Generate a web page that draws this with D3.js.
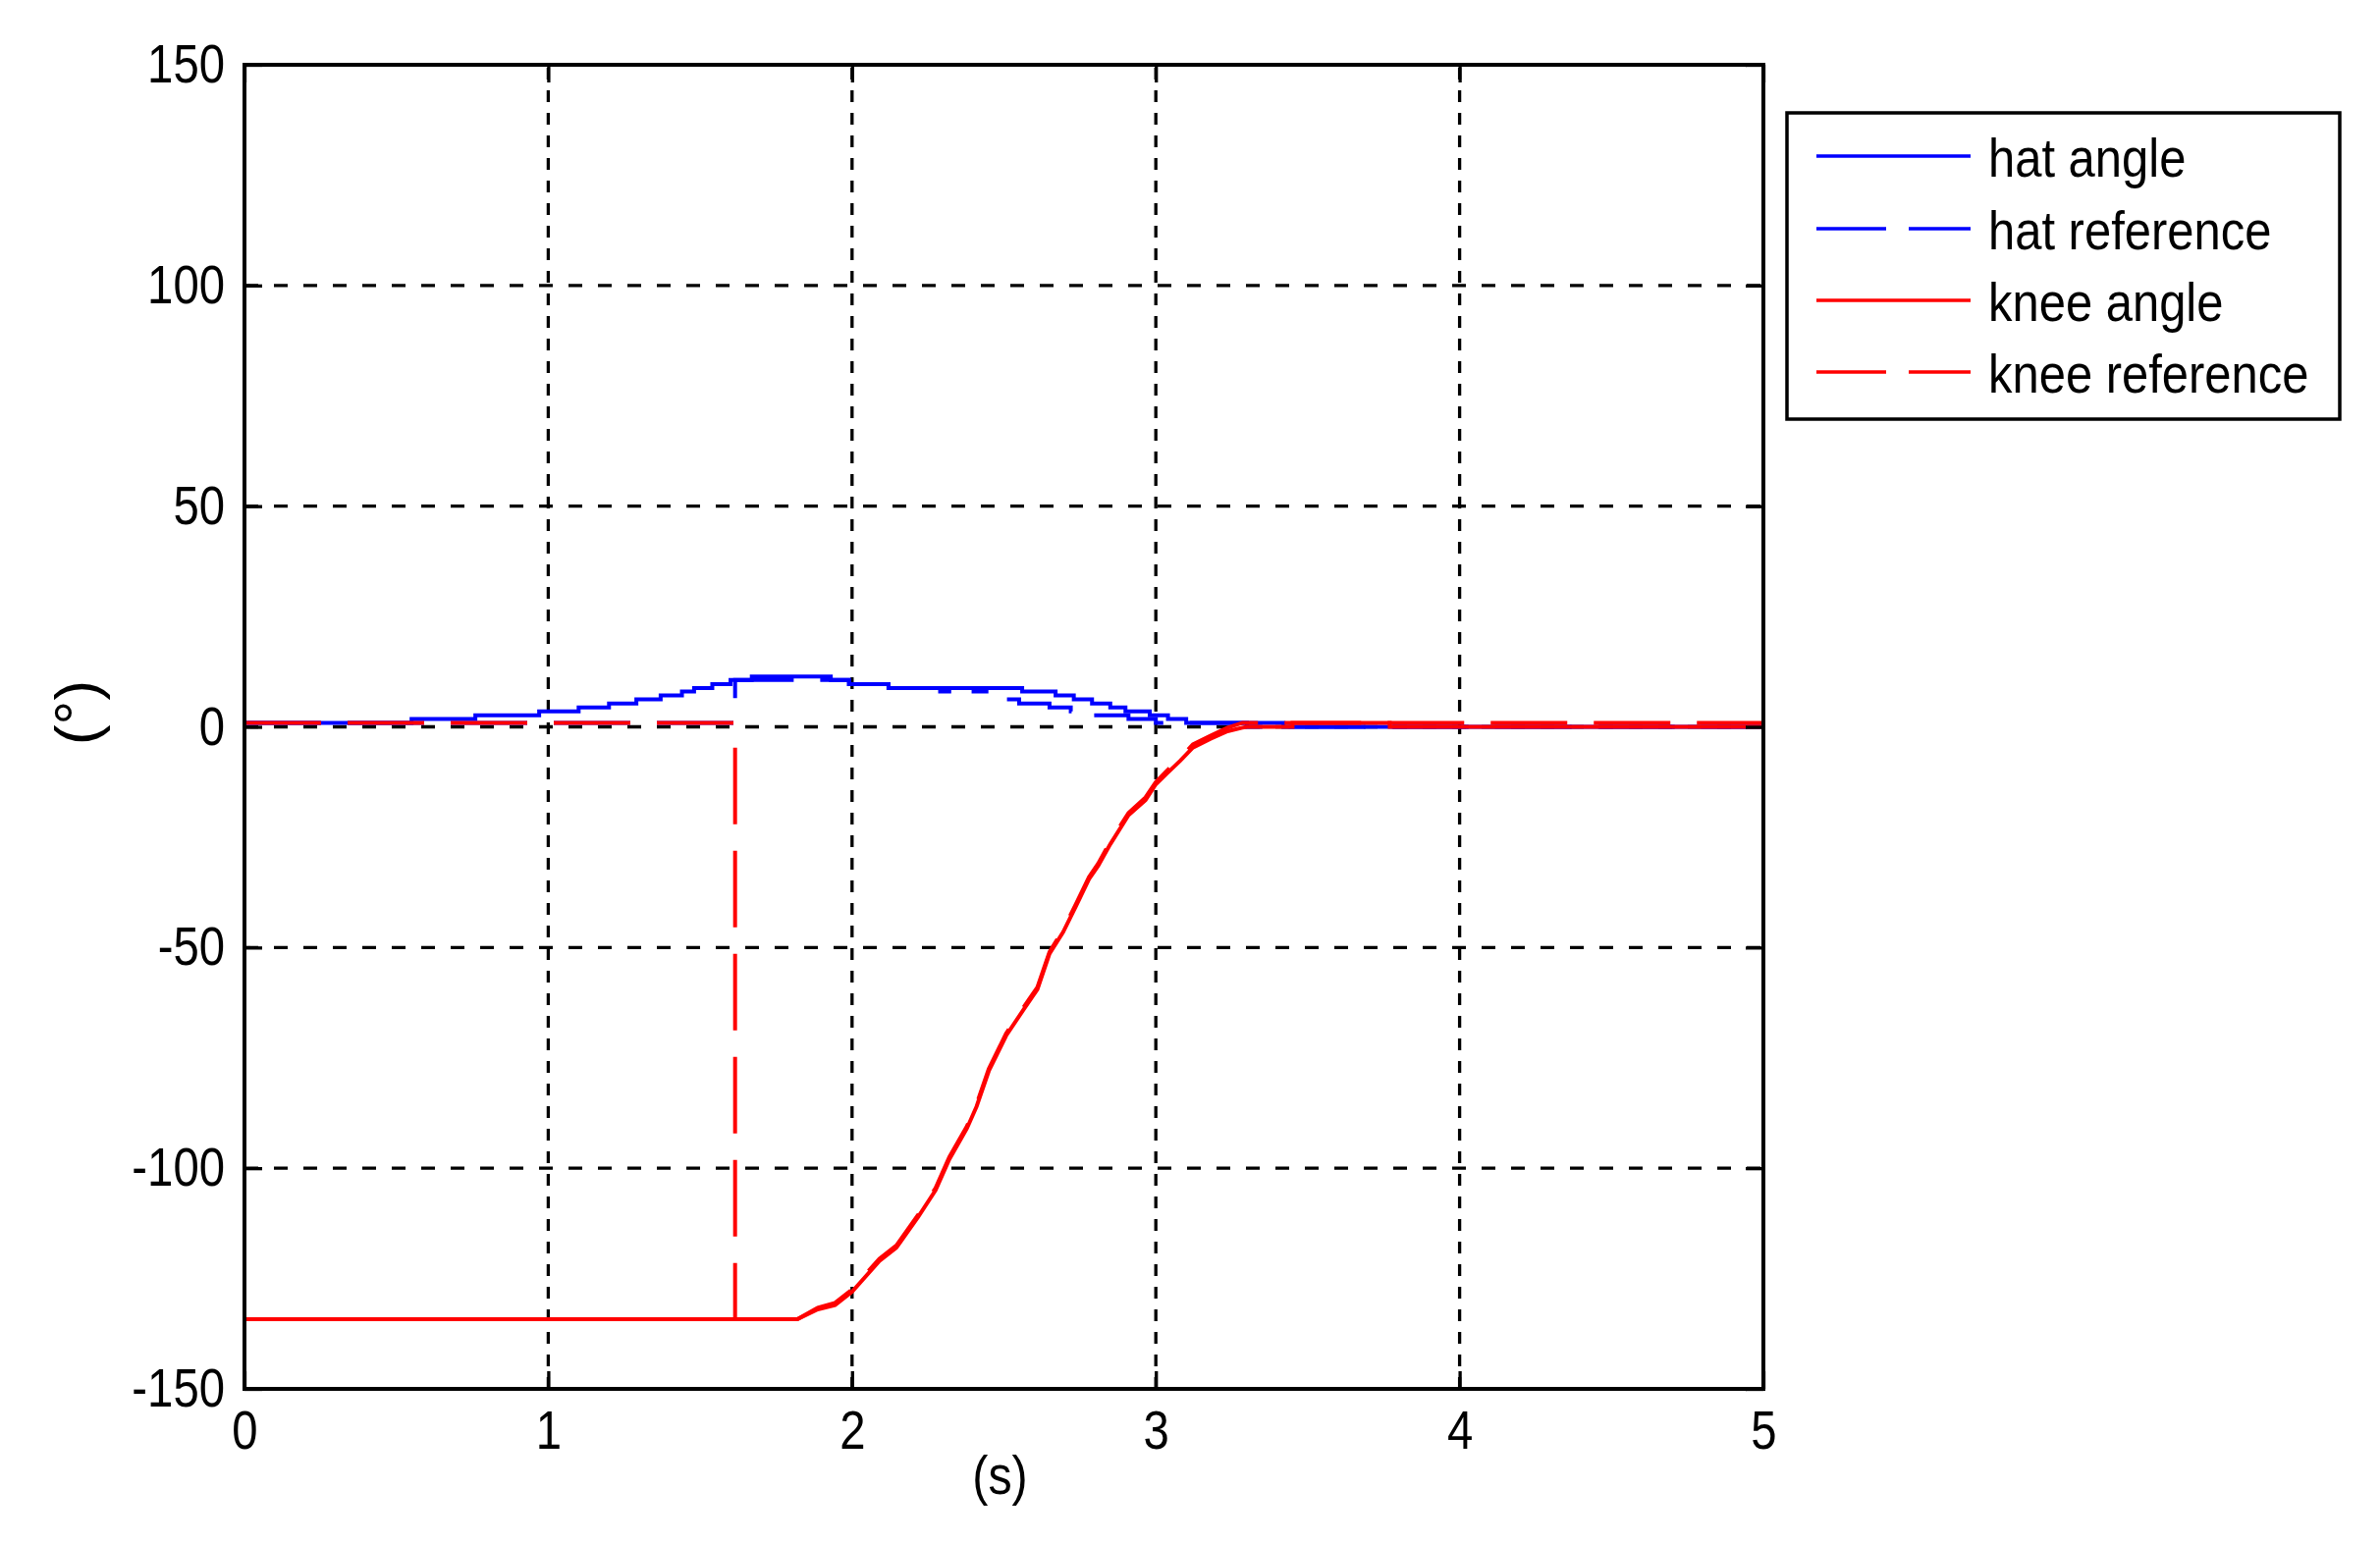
<!DOCTYPE html>
<html>
<head>
<meta charset="utf-8">
<script src="https://cdn.jsdelivr.net/npm/d3@7"></script>
<style>
  body { margin: 0; background: #fff; }
  text { font-family: "Liberation Sans", Arial, sans-serif; fill: #000; }
</style>
</head>
<body>
<div id="chart"></div>
<script>
// values: time in s, angle in degrees
var hatAngleT = [0, 0.55, 0.76, 0.97, 1.10, 1.20, 1.29, 1.37, 1.44, 1.48, 1.54, 1.60, 1.67, 1.93, 1.99, 2.12, 2.29, 2.32, 2.56, 2.67, 2.73, 2.79, 2.85, 2.90, 2.98, 3.04, 3.10, 3.42, 5];
var hatAngleV = [0.9, 1.8, 2.6, 3.5, 4.4, 5.3, 6.2, 7.1, 8.0, 8.8, 9.7, 10.6, 11.4, 10.6, 9.7, 8.8, 8.0, 8.8, 8.0, 7.1, 6.2, 5.3, 4.4, 3.5, 2.6, 1.8, 0.9, 0, 0];

var hatRefT = [0, 1.615, 1.99, 2.12, 2.40, 2.45, 2.48, 2.55, 2.65, 2.72, 2.79, 2.91, 3.0, 3.30, 5];
var hatRefV = [0.9, 10.6, 9.7, 8.8, 8.0, 7.1, 6.2, 5.3, 4.4, 3.5, 2.6, 1.8, 0.9, 0, 0];

var kneeAngleT = [0, 1.82, 1.887, 1.944, 2.0, 2.09, 2.146, 2.218, 2.275, 2.32, 2.378, 2.41, 2.45, 2.507, 2.565, 2.61, 2.65, 2.695, 2.738, 2.78, 2.81, 2.85, 2.91, 2.966, 3.0, 3.036, 3.08, 3.122, 3.18, 3.236, 3.285, 3.30, 3.45, 3.45, 3.77, 3.77, 5];
var kneeAngleV = [-134.2, -134.2, -132, -131, -128, -121, -118, -111, -105, -98, -91, -86, -78, -70, -64, -59.5, -51.4, -46.5, -40.5, -34.5, -31.5, -26.6, -20, -16.6, -13, -10.6, -7.7, -4.7, -2.7, -1.0, -0.2, 0, 0, 0.9, 0.9, 0, 0];

// the reference lies on top of the measured knee curve once it rises
var kneeRefT = [0, 1.615, 1.615, 1.82, 1.887, 1.944, 2.0, 2.09, 2.146, 2.218, 2.275, 2.32, 2.378, 2.41, 2.45, 2.507, 2.565, 2.61, 2.65, 2.695, 2.738, 2.78, 2.81, 2.85, 2.91, 2.966, 3.0, 3.036, 3.08, 3.122, 3.18, 3.236, 3.285, 5];
var kneeRefV = [0.9, 0.9, -134.2, -134.2, -131.6, -130.5, -127.5, -120.5, -117.5, -110.5, -104.5, -97.5, -90.5, -85.5, -77.5, -69.5, -63.5, -59, -51, -46, -40, -34, -31, -26, -19.5, -16, -12.5, -10, -7, -4, -2, -0.2, 0.9, 0.9];

var xTicks = [0, 1, 2, 3, 4, 5];
var yTicks = [-150, -100, -50, 0, 50, 100, 150];

var seriesNames = ['hat angle', 'hat reference', 'knee angle', 'knee reference'];
var seriesColors = ['#0000ff', '#0000ff', '#ff0000', '#ff0000'];
var seriesDashed = [false, true, false, true];
var seriesStep = [true, true, false, false];

var svgWidth = 2424;
var svgHeight = 1571;
var plotLeft = 249, plotRight = 1796, plotTop = 66, plotBottom = 1415;
var fontSize = 55;

var series = [
  d3.zip(hatAngleT, hatAngleV),
  d3.zip(hatRefT, hatRefV),
  d3.zip(kneeAngleT, kneeAngleV),
  d3.zip(kneeRefT, kneeRefV)
];

var x = d3.scaleLinear().domain([0, 5]).range([plotLeft, plotRight]);
var y = d3.scaleLinear().domain([-150, 150]).range([plotBottom, plotTop]);

var svg = d3.select('#chart')
  .append('svg')
  .attr('width', svgWidth)
  .attr('height', svgHeight)
  .style('display', 'block')
  .style('background', '#fff');

// squeeze text horizontally, the original font is narrow
function narrow(sel, k) {
  sel.attr('transform', function() {
    var tx = +d3.select(this).attr('x') || 0;
    return 'translate(' + tx + ',0) scale(' + k + ',1) translate(' + (-tx) + ',0)';
  });
}

// dotted grid
svg.append('g')
  .selectAll('line')
  .data(xTicks)
  .enter()
  .append('line')
  .attr('x1', function(d) { return x(d); })
  .attr('x2', function(d) { return x(d); })
  .attr('y1', plotBottom)
  .attr('y2', plotTop)
  .attr('stroke', '#000')
  .attr('stroke-width', 3.3)
  .attr('stroke-dasharray', '12,11');

svg.append('g')
  .selectAll('line')
  .data(yTicks)
  .enter()
  .append('line')
  .attr('x1', plotLeft)
  .attr('x2', plotRight)
  .attr('y1', function(d) { return y(d); })
  .attr('y2', function(d) { return y(d); })
  .attr('stroke', '#000')
  .attr('stroke-width', 3.3)
  .attr('stroke-dasharray', '14,16');

// data lines
var lineStep = d3.line()
  .x(function(d) { return x(d[0]); })
  .y(function(d) { return y(d[1]); })
  .curve(d3.curveStepAfter);

var lineLinear = d3.line()
  .x(function(d) { return x(d[0]); })
  .y(function(d) { return y(d[1]); });

svg.append('g')
  .selectAll('path')
  .data(series)
  .enter()
  .append('path')
  .attr('d', function(d, i) { return seriesStep[i] ? lineStep(d) : lineLinear(d); })
  .attr('fill', 'none')
  .attr('stroke', function(d, i) { return seriesColors[i]; })
  .attr('stroke-width', 4)
  .attr('stroke-dasharray', function(d, i) { return seriesDashed[i] ? '78,27' : null; });

// axes, ticks pointing inward on all four sides
function styleAxis(g) {
  g.select('.domain').remove();
  g.selectAll('.tick line').attr('stroke', '#000').attr('stroke-width', 3.3);
  g.attr('font-size', fontSize).attr('font-family', '"Liberation Sans", Arial, sans-serif');
}

var fmt = function(d) { return String(d); };

var xAxis = svg.append('g')
  .attr('transform', 'translate(0,' + plotBottom + ')')
  .call(d3.axisBottom(x).tickValues(xTicks).tickSize(-18).tickPadding(22).tickFormat(fmt))
  .call(styleAxis);
xAxis.selectAll('text').call(narrow, 0.86);

svg.append('g')
  .attr('transform', 'translate(0,' + plotTop + ')')
  .call(d3.axisTop(x).tickValues(xTicks).tickSize(-18).tickFormat(''))
  .call(styleAxis);

var yAxis = svg.append('g')
  .attr('transform', 'translate(' + plotLeft + ',0)')
  .call(d3.axisLeft(y).tickValues(yTicks).tickSize(-18).tickPadding(20).tickFormat(fmt))
  .call(styleAxis);
yAxis.selectAll('text').call(narrow, 0.86);

svg.append('g')
  .attr('transform', 'translate(' + plotRight + ',0)')
  .call(d3.axisRight(y).tickValues(yTicks).tickSize(-18).tickFormat(''))
  .call(styleAxis);

// box
svg.append('rect')
  .attr('x', plotLeft)
  .attr('y', plotTop)
  .attr('width', plotRight - plotLeft)
  .attr('height', plotBottom - plotTop)
  .attr('fill', 'none')
  .attr('stroke', '#000')
  .attr('stroke-width', 4);

// axis labels
svg.append('text')
  .attr('x', (plotLeft + plotRight) / 2 - 4)
  .attr('y', 1522)
  .attr('text-anchor', 'middle')
  .attr('font-size', fontSize)
  .text('(s)')
  .call(narrow, 0.88);

svg.append('text')
  .attr('transform', 'translate(99,726) rotate(-90)')
  .attr('text-anchor', 'middle')
  .attr('font-size', 62)
  .text('(°)');

// legend
var legendX = 1820, legendY = 115, legendW = 563, legendH = 312;
var legendRowY = [159, 233, 306, 379];

svg.append('rect')
  .attr('x', legendX)
  .attr('y', legendY)
  .attr('width', legendW)
  .attr('height', legendH)
  .attr('fill', '#fff')
  .attr('stroke', '#000')
  .attr('stroke-width', 3.5);

var legend = svg.selectAll('.legend')
  .data(seriesNames)
  .enter()
  .append('g')
  .attr('class', 'legend')
  .attr('transform', function(d, i) { return 'translate(0,' + legendRowY[i] + ')'; });

legend.append('line')
  .attr('x1', 1850)
  .attr('x2', 2007)
  .attr('y1', 0)
  .attr('y2', 0)
  .attr('stroke', function(d, i) { return seriesColors[i]; })
  .attr('stroke-width', 3.5)
  .attr('stroke-dasharray', function(d, i) { return seriesDashed[i] ? '71,23' : null; });

legend.append('text')
  .attr('x', 2025)
  .attr('y', 21)
  .attr('font-size', fontSize)
  .text(function(d) { return d; })
  .call(narrow, 0.89);
</script>
</body>
</html>
